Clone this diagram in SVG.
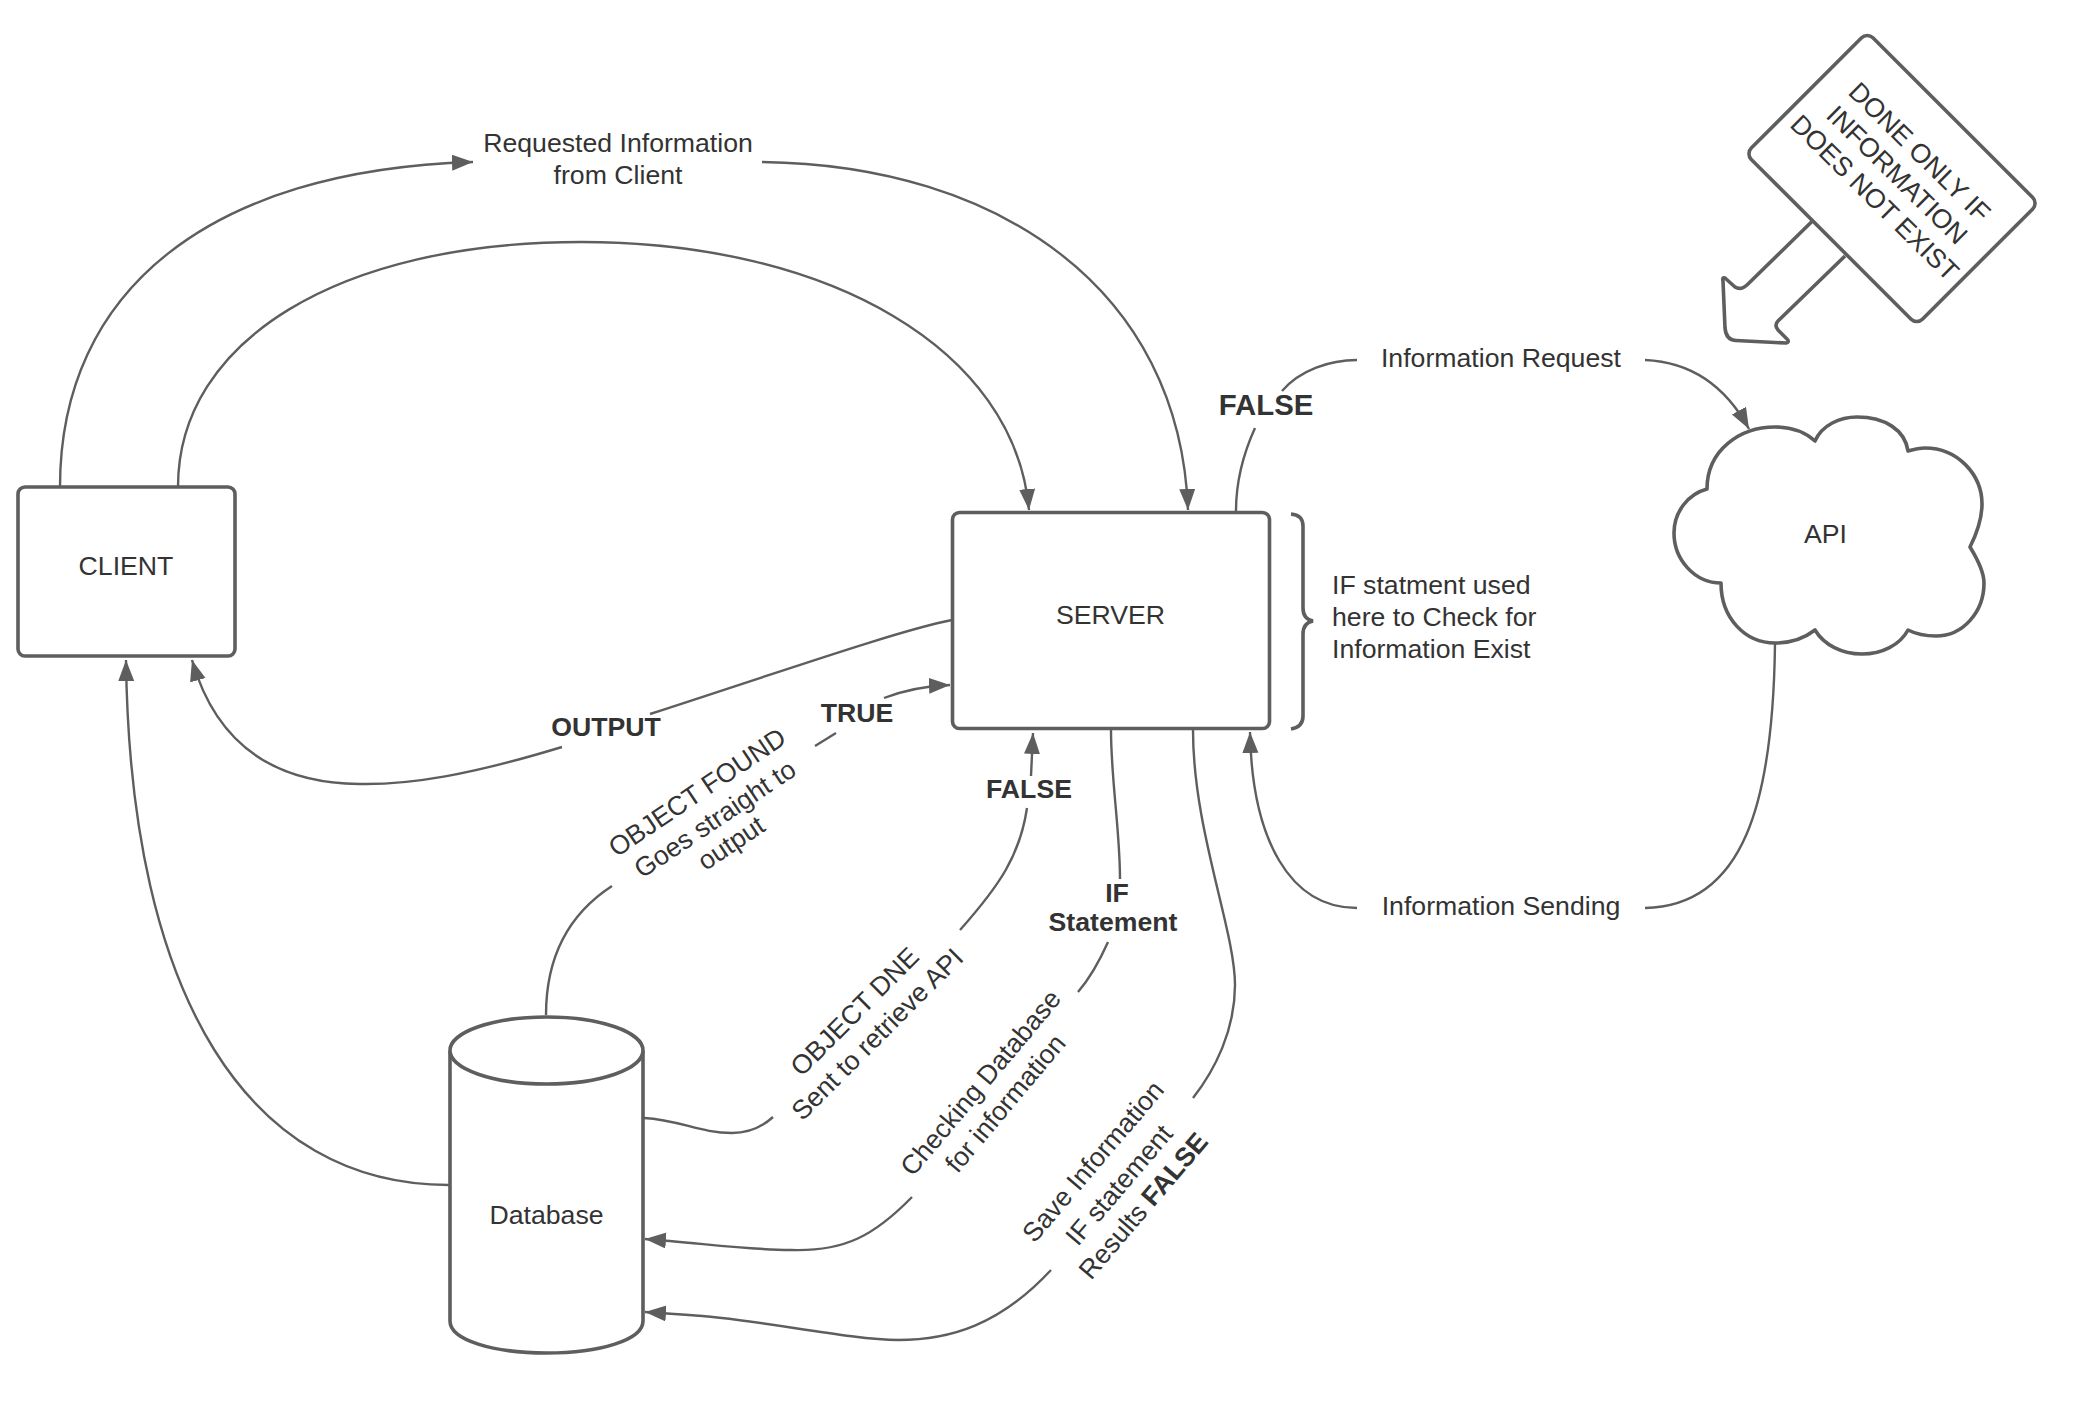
<svg xmlns="http://www.w3.org/2000/svg" width="2092" height="1422" viewBox="0 0 2092 1422">
<style>
.n{fill:#fff;stroke:#5e5e5e;stroke-width:3.6;stroke-linejoin:round}
.c{fill:none;stroke:#5e5e5e;stroke-width:2.4}
.a{marker-end:url(#ah)}
text{font-family:"Liberation Sans",Arial,sans-serif;font-size:26.67px;fill:#333;text-anchor:middle}
.b{font-weight:bold}
.l{text-anchor:start}
</style>
<defs>
<marker id="ah" markerUnits="userSpaceOnUse" markerWidth="24" markerHeight="18" refX="21" refY="8" orient="auto"><path d="M0 0L21 8L0 16Z" fill="#5e5e5e"/></marker>
</defs>
<rect width="2092" height="1422" fill="#fff"/>
<g id="connectors">
<path class="c a" d="M60 487C60 290 210 170 473 162"/>
<path class="c a" d="M762 162C1000 165 1180 290 1188 510"/>
<path class="c a" d="M178 487C178 340 340 242 581 242C830 242 1015 350 1029 510"/>
<path class="c" d="M952 620C900 630 780 672 650 714"/>
<path class="c a" d="M562 747C470 775 410 785 359 784C270 783 215 740 192 660"/>
<path class="c a" d="M449 1185C250 1185 130 1000 126 660"/>
<path class="c" d="M546 1015C546 950 575 910 612 886"/>
<path class="c" d="M815 746L836 733"/>
<path class="c a" d="M884 698C905 690 925 686 950 685"/>
<path class="c" d="M644 1118C680 1120 700 1133 732 1133C750 1133 762 1127 773 1117"/>
<path class="c" d="M960 930C1000 885 1020 855 1027 808"/>
<path class="c a" d="M1031 776L1033 733"/>
<path class="c" d="M1111 730C1111 780 1120 830 1120 879"/>
<path class="c" d="M1108 942C1100 960 1090 978 1078 992"/>
<path class="c a" d="M912 1197C875 1235 845 1252 790 1250C750 1250 700 1243 645 1239"/>
<path class="c" d="M1193 730C1193 830 1235 930 1235 985C1235 1030 1215 1070 1193 1098"/>
<path class="c a" d="M1051 1270C1000 1325 950 1340 898 1340C850 1340 750 1318 689 1315L645 1312"/>
<path class="c" d="M1236 511C1236 480 1245 450 1255 428"/>
<path class="c" d="M1282 391C1300 370 1330 360 1357 360"/>
<path class="c a" d="M1645 360C1690 362 1725 385 1749 429"/>
<path class="c" d="M1775 644C1773 800 1745 906 1645 908"/>
<path class="c a" d="M1357 908C1290 908 1252 840 1250 732"/>
</g>
<g id="client"><rect class="n" x="18" y="487" width="217" height="169" rx="7"/><text x="126" y="575">CLIENT</text></g>
<g id="server"><rect class="n" x="952.500" y="512.500" width="317" height="216" rx="7"/><text x="1110.500" y="624">SERVER</text></g>
<g id="database"><path class="n" d="M450 1051V1321C450 1340 493 1353 546.500 1353C600 1353 643 1340 643 1321V1051"/><ellipse class="n" cx="546.500" cy="1050.500" rx="96.500" ry="33.500"/><text x="546.500" y="1224">Database</text></g>
<g id="api"><path class="n" d="M1707 489C1707 450 1740 427 1775 427C1792 427 1806 433 1815 441C1822 425 1840 417 1857 417C1885 417 1905 430 1908 451C1915 449 1920 448 1925 448C1958 448 1982 475 1982 504C1982 520 1976 535 1970 547C1978 560 1984 572 1984 583C1984 612 1963 636 1936 636C1926 636 1916 634 1908 630C1900 645 1882 654 1862 654C1842 654 1824 645 1815 630C1806 637 1792 643 1775 643C1745 643 1721 618 1721 583C1695 583 1674 560 1674 533C1674 512 1688 494 1707 489Z"/><text x="1825.500" y="543">API</text></g>
<g id="brace"><path class="c" style="stroke-width:3.6" d="M1291 514Q1303 515 1303 526V608Q1303 619 1313 621Q1303 623 1303 634V716Q1303 727 1291 729"/><text class="l" x="1332" y="594">IF statment used</text><text class="l" x="1332" y="626">here to Check for</text><text class="l" x="1332" y="658">Information Exist</text></g>
<g id="sign"><path class="n" d="M1811.700 221.700L1748 284Q1741 291 1735 287L1725 278Q1722 277 1723 281L1725 328Q1726 340 1736 340.500L1786 343Q1790 342 1787 339L1778 330Q1774 325 1778 321L1845 256"/><rect class="n" x="1771" y="92.500" width="242" height="172" rx="8" transform="rotate(45 1892 178.500)"/><g transform="translate(1897 175) rotate(44.500)"><text y="-23">DONE ONLY IF</text><text y="9">INFORMATION</text><text y="41">DOES NOT EXIST</text></g></g>
<g id="labels">
<text x="618" y="152">Requested Information</text><text x="618" y="184">from Client</text>
<text x="1501" y="367">Information Request</text>
<text x="1501" y="915">Information Sending</text>
<text class="b" x="1266" y="415" style="font-size:29.33px">FALSE</text>
<text class="b" x="1029" y="798">FALSE</text>
<text class="b" x="606" y="736">OUTPUT</text>
<text class="b" x="857" y="722">TRUE</text>
<text class="b" x="1117" y="902">IF</text><text class="b" x="1113" y="931">Statement</text>
<g transform="translate(715 819) rotate(-34)"><text y="-23">OBJECT FOUND</text><text y="9">Goes straight to</text><text y="38">output</text></g>
<g transform="translate(866 1023) rotate(-45)"><text y="-7">OBJECT DNE</text><text y="25">Sent to retrieve API</text></g>
<g transform="translate(993 1093) rotate(-50)"><text y="-7">Checking Database</text><text y="25">for information</text></g>
<g transform="translate(1119 1185) rotate(-49.500)"><text y="-26" x="1">Save Information</text><text y="9">IF statement</text><text y="41">Results <tspan class="b">FALSE</tspan></text></g>
</g>
</svg>
